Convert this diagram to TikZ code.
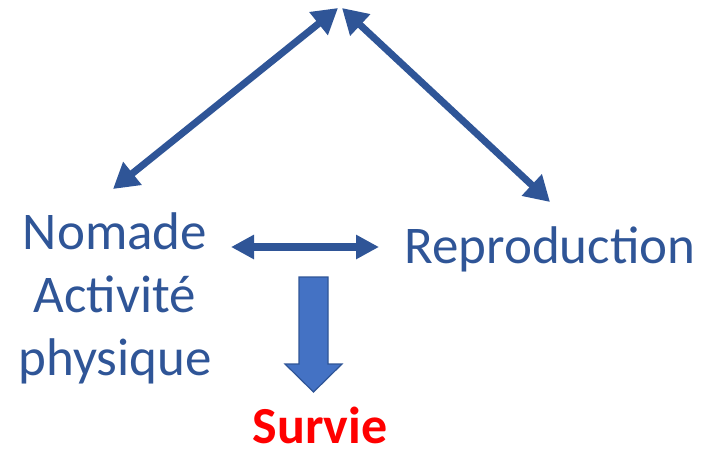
\documentclass[tikz,border=0pt]{standalone}
\usepackage{fontspec}
\setmainfont{Carlito}
\usetikzlibrary{arrows.meta}
\definecolor{dblue}{HTML}{2F5597}
\definecolor{mblue}{HTML}{4472C4}
\begin{document}
\begin{tikzpicture}[x=1pt,y=-1pt,
  lbl/.style={text=dblue,font=\fontsize{53}{63}\selectfont,inner sep=0pt,anchor=base},
  bigarrow/.style={draw=dblue,line width=7pt,{Triangle[length=25pt,width=28pt]}-{Triangle[length=25pt,width=28pt]}},
  midarrow/.style={draw=dblue,line width=8pt,{Triangle[length=23pt,width=23pt]}-{Triangle[length=23pt,width=23pt]}}]
\useasboundingbox (0,0) rectangle (706,448);
\node[lbl] (nom) at (115,249) {Nomade};
\node[lbl] (act) at (115,312) {Activité};
\node[lbl] (phy) at (115,375) {physique};
\node[lbl] (rep) at (550,263) {Reproduction};
\node[lbl,text=red,font=\fontsize{52}{62}\selectfont\bfseries] (sur) at (320,443) {Survie};
\coordinate (apexL) at (338,8);
\coordinate (apexR) at (342,8);
\coordinate (tipL) at (113,189);
\coordinate (tipR) at (550,202);
\coordinate (hL) at (231,247);
\coordinate (hR) at (379,247);
\draw[bigarrow] (tipL) -- (apexL);
\draw[bigarrow] (apexR) -- (tipR);
\draw[midarrow] (hL) -- (hR);
\draw[fill=mblue,draw=dblue,line width=1.2pt,line join=miter]
  (299,277) -- (328,277) -- (328,364) -- (342,364) -- (313.5,392) -- (285,364) -- (299,364) -- cycle;
\end{tikzpicture}
\end{document}
